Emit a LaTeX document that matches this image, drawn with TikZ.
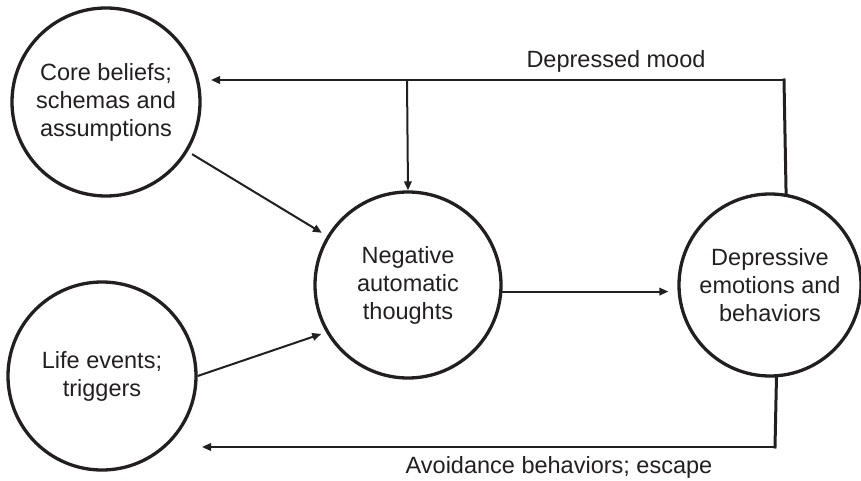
\documentclass[tikz,border=0pt]{standalone}
\usepackage{fontspec}
\setmainfont{Liberation Sans}
\usetikzlibrary{arrows.meta}
\definecolor{ink}{RGB}{35,31,32}
\begin{document}
\begin{tikzpicture}[x=1bp,y=-1bp,
  every node/.style={text=ink},
  bubble/.style={draw=ink, circle, line width=3.3bp, inner sep=0pt,
    align=center, font=\fontsize{23.5bp}{28bp}\selectfont},
  label/.style={font=\fontsize{23.5bp}{28bp}\selectfont, anchor=base, inner sep=0pt},
  link/.style={draw=ink, line width=2bp},
  stem/.style={draw=ink, line width=3bp, line cap=rect},
  arr/.style={link, -{Triangle[length=9bp,width=7.5bp]}}]
  \useasboundingbox (0,0) rectangle (861,481);

  % the four circles
  \node[bubble, minimum size=188bp] (core) at (106,102) {Core beliefs;\\schemas and\\assumptions};
  \node[bubble, minimum size=188bp] (life) at (102,376) {Life events;\\triggers};
  \node[bubble, minimum size=186bp] (nat)  at (408,285) {Negative\\automatic\\thoughts};
  \node[bubble, minimum size=182bp] (dep)  at (770,285) {Depressive\\emotions and\\behaviors};

  % corners and free ends of the feedback loops
  \coordinate (topR)  at (784,80);
  \coordinate (topB)  at (407,80);
  \coordinate (topL)  at (211,80);
  \coordinate (botR)  at (775,447);
  \coordinate (botL)  at (202,447);

  % inputs into negative automatic thoughts
  \draw[arr, shorten <=5bp, shorten >=6bp] (core) -- (nat);
  \draw[arr, shorten >=5bp] (life.east) -- (nat.210);
  \draw[arr, shorten >=9bp] (nat.-4) -- (nat.-4 -| dep.west);

  % depressed mood loop
  \draw[stem] (dep.80) -- (topR);
  \draw[arr] (topR) -- (topL);
  \draw[arr] (topB) -- (nat.north);
  \node[label] (mood) at (616,68) {Depressed mood};

  % avoidance loop
  \draw[stem] (dep.-86) -- (botR);
  \draw[arr] (botR) -- (botL);
  \node[label] (avoid) at (559,473) {Avoidance behaviors; escape};
\end{tikzpicture}
\end{document}
